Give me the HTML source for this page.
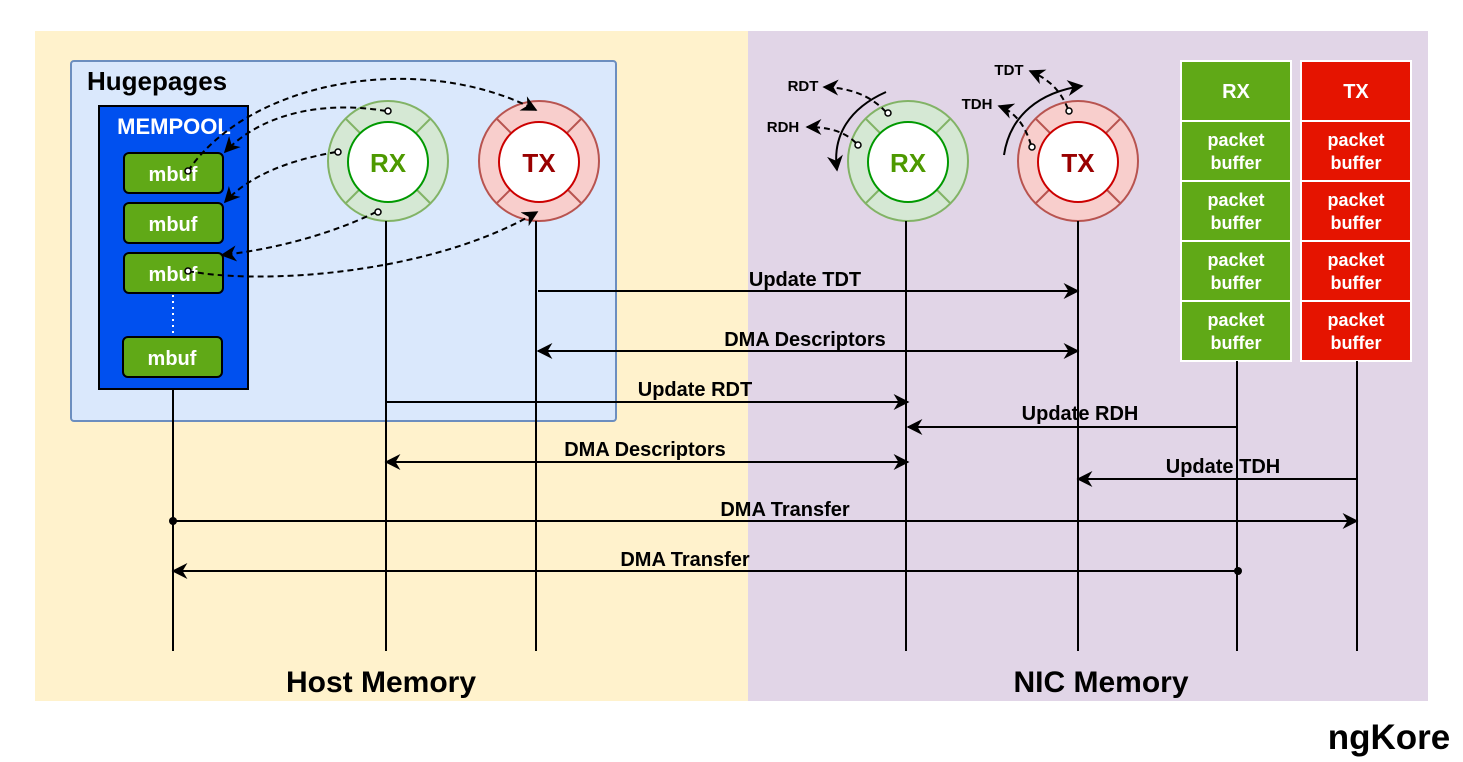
<!DOCTYPE html>
<html><head><meta charset="utf-8"><style>body{margin:0;background:#fff}svg{display:block}text{font-family:"Liberation Sans",sans-serif;font-weight:bold}</style></head><body>
<svg width="1463" height="762" viewBox="0 0 1463 762" xmlns="http://www.w3.org/2000/svg">
<defs>
<marker id="a" viewBox="0 0 10 10" refX="9" refY="5" markerWidth="8" markerHeight="8" orient="auto-start-reverse"><path d="M0,0 L10,5 L0,10 L3,5z" fill="#000"/></marker>
</defs>
<rect x="35" y="31" width="713" height="670" fill="#fff2cc"/>
<rect x="748" y="31" width="680" height="670" fill="#e1d5e7"/>
<rect x="71" y="61" width="545" height="360" rx="3" fill="#dae8fc" stroke="#6c8ebf" stroke-width="2"/>
<text x="87" y="90" font-size="26">Hugepages</text>
<rect x="99" y="106" width="149" height="283" fill="#0050ef" stroke="#000" stroke-width="2"/>
<text x="174" y="134" font-size="22" fill="#fff" text-anchor="middle">MEMPOOL</text>
<g fill="#60a917" stroke="#000" stroke-width="2">
<rect x="124" y="153" width="99" height="40" rx="5"/><rect x="124" y="203" width="99" height="40" rx="5"/><rect x="124" y="253" width="99" height="40" rx="5"/><rect x="123" y="337" width="99" height="40" rx="5"/></g>
<line x1="173" y1="295" x2="173" y2="336" stroke="#fff" stroke-width="2" stroke-dasharray="2 4"/>
<g font-size="20" fill="#fff" text-anchor="middle"><text x="173" y="181">mbuf</text><text x="173" y="231">mbuf</text><text x="173" y="281">mbuf</text><text x="172" y="365">mbuf</text></g>
<g stroke-width="2">
<circle cx="388" cy="161" r="60" fill="#d5e8d4" stroke="#82b366"/>
<path d="M346,119 L360,133 M430,119 L416,133 M346,203 L360,189 M430,203 L416,189" stroke="#82b366"/>
<circle cx="388" cy="162" r="40" fill="#fff" stroke="#009900"/>
<circle cx="539" cy="161" r="60" fill="#f8cecc" stroke="#b85450"/>
<path d="M497,119 L511,133 M581,119 L567,133 M497,203 L511,189 M581,203 L567,189" stroke="#b85450"/>
<circle cx="539" cy="162" r="40" fill="#fff" stroke="#cc0000"/>
<circle cx="908" cy="161" r="60" fill="#d5e8d4" stroke="#82b366"/>
<path d="M866,119 L880,133 M950,119 L936,133 M866,203 L880,189 M950,203 L936,189" stroke="#82b366"/>
<circle cx="908" cy="162" r="40" fill="#fff" stroke="#009900"/>
<circle cx="1078" cy="161" r="60" fill="#f8cecc" stroke="#b85450"/>
<path d="M1036,119 L1050,133 M1120,119 L1106,133 M1036,203 L1050,189 M1120,203 L1106,189" stroke="#b85450"/>
<circle cx="1078" cy="162" r="40" fill="#fff" stroke="#cc0000"/>
</g>
<g font-size="26" text-anchor="middle"><text x="388" y="172" fill="#4d9900">RX</text><text x="539" y="172" fill="#990000">TX</text><text x="908" y="172" fill="#4d9900">RX</text><text x="1078" y="172" fill="#990000">TX</text></g>
<g stroke="#fff" stroke-width="2">
<rect x="1181" y="61" width="110" height="60" fill="#60a917"/><rect x="1181" y="121" width="110" height="60" fill="#60a917"/><rect x="1181" y="181" width="110" height="60" fill="#60a917"/><rect x="1181" y="241" width="110" height="60" fill="#60a917"/><rect x="1181" y="301" width="110" height="60" fill="#60a917"/>
<rect x="1301" y="61" width="110" height="60" fill="#e51400"/><rect x="1301" y="121" width="110" height="60" fill="#e51400"/><rect x="1301" y="181" width="110" height="60" fill="#e51400"/><rect x="1301" y="241" width="110" height="60" fill="#e51400"/><rect x="1301" y="301" width="110" height="60" fill="#e51400"/>
</g>
<g fill="#fff" text-anchor="middle" font-size="20"><text x="1236" y="98">RX</text><text x="1356" y="98">TX</text></g>
<g fill="#fff" text-anchor="middle" font-size="18">
<text x="1236" y="146">packet</text><text x="1236" y="169">buffer</text><text x="1236" y="206">packet</text><text x="1236" y="229">buffer</text><text x="1236" y="266">packet</text><text x="1236" y="289">buffer</text><text x="1236" y="326">packet</text><text x="1236" y="349">buffer</text>
<text x="1356" y="146">packet</text><text x="1356" y="169">buffer</text><text x="1356" y="206">packet</text><text x="1356" y="229">buffer</text><text x="1356" y="266">packet</text><text x="1356" y="289">buffer</text><text x="1356" y="326">packet</text><text x="1356" y="349">buffer</text></g>
<g stroke="#000" stroke-width="2">
<line x1="173" y1="389" x2="173" y2="651"/><line x1="386" y1="221" x2="386" y2="651"/><line x1="536" y1="221" x2="536" y2="651"/><line x1="906" y1="221" x2="906" y2="651"/><line x1="1078" y1="221" x2="1078" y2="651"/><line x1="1237" y1="361" x2="1237" y2="651"/><line x1="1357" y1="361" x2="1357" y2="651"/>
</g>
<g stroke="#000" stroke-width="2" fill="none">
<line x1="538" y1="291" x2="1078" y2="291" marker-end="url(#a)"/>
<line x1="538" y1="351" x2="1078" y2="351" marker-start="url(#a)" marker-end="url(#a)"/>
<line x1="386" y1="402" x2="908" y2="402" marker-end="url(#a)"/>
<line x1="1237" y1="427" x2="908" y2="427" marker-end="url(#a)"/>
<line x1="386" y1="462" x2="908" y2="462" marker-start="url(#a)" marker-end="url(#a)"/>
<line x1="1357" y1="479" x2="1078" y2="479" marker-end="url(#a)"/>
<line x1="173" y1="521" x2="1357" y2="521" marker-end="url(#a)"/>
<line x1="1238" y1="571" x2="173" y2="571" marker-end="url(#a)"/>
</g>
<circle cx="173" cy="521" r="4"/><circle cx="1238" cy="571" r="4"/>
<g font-size="20" text-anchor="middle">
<text x="805" y="286">Update TDT</text><text x="805" y="346">DMA Descriptors</text><text x="695" y="396">Update RDT</text><text x="1080" y="420">Update RDH</text><text x="645" y="456">DMA Descriptors</text><text x="1223" y="473">Update TDH</text><text x="785" y="516">DMA Transfer</text><text x="685" y="566">DMA Transfer</text>
</g>
<g stroke="#000" stroke-width="2" fill="none" stroke-dasharray="6 4">
<path d="M188,171 C250,80 420,50 536,110" marker-end="url(#a)"/>
<path d="M386,111 C320,100 260,115 225,152" marker-end="url(#a)"/>
<path d="M336,152 C290,160 250,175 225,202" marker-end="url(#a)"/>
<path d="M376,212 C330,235 270,250 222,255" marker-end="url(#a)"/>
<path d="M188,271 C260,285 430,275 537,212" marker-end="url(#a)"/>
<path d="M886,112 C870,95 850,88 824,87" marker-end="url(#a)"/>
<path d="M856,143 C845,132 830,127 807,127" marker-end="url(#a)"/>
<path d="M1068,109 C1060,90 1050,80 1030,71" marker-end="url(#a)"/>
<path d="M1031,145 C1025,125 1015,112 999,106" marker-end="url(#a)"/>
</g>
<g stroke="#000" stroke-width="1.5" fill="#fff">
<circle cx="188" cy="171" r="3"/><circle cx="388" cy="111" r="3"/><circle cx="338" cy="152" r="3"/><circle cx="378" cy="212" r="3"/><circle cx="188" cy="271" r="3"/>
<circle cx="888" cy="113" r="3"/><circle cx="858" cy="145" r="3"/><circle cx="1069" cy="111" r="3"/><circle cx="1032" cy="147" r="3"/>
</g>
<g stroke="#000" stroke-width="2" fill="none">
<path d="M886,92 C850,108 832,135 837,170" marker-end="url(#a)"/>
<path d="M1004,155 C1010,115 1040,92 1082,86" marker-end="url(#a)"/>
</g>
<g font-size="15" text-anchor="middle"><text x="803" y="91">RDT</text><text x="783" y="132">RDH</text><text x="1009" y="75">TDT</text><text x="977" y="109">TDH</text></g>
<g font-size="30" text-anchor="middle"><text x="381" y="692">Host Memory</text><text x="1101" y="692">NIC Memory</text></g>
<text x="1389" y="749" font-size="35" text-anchor="middle">ngKore</text>
</svg>
</body></html>
